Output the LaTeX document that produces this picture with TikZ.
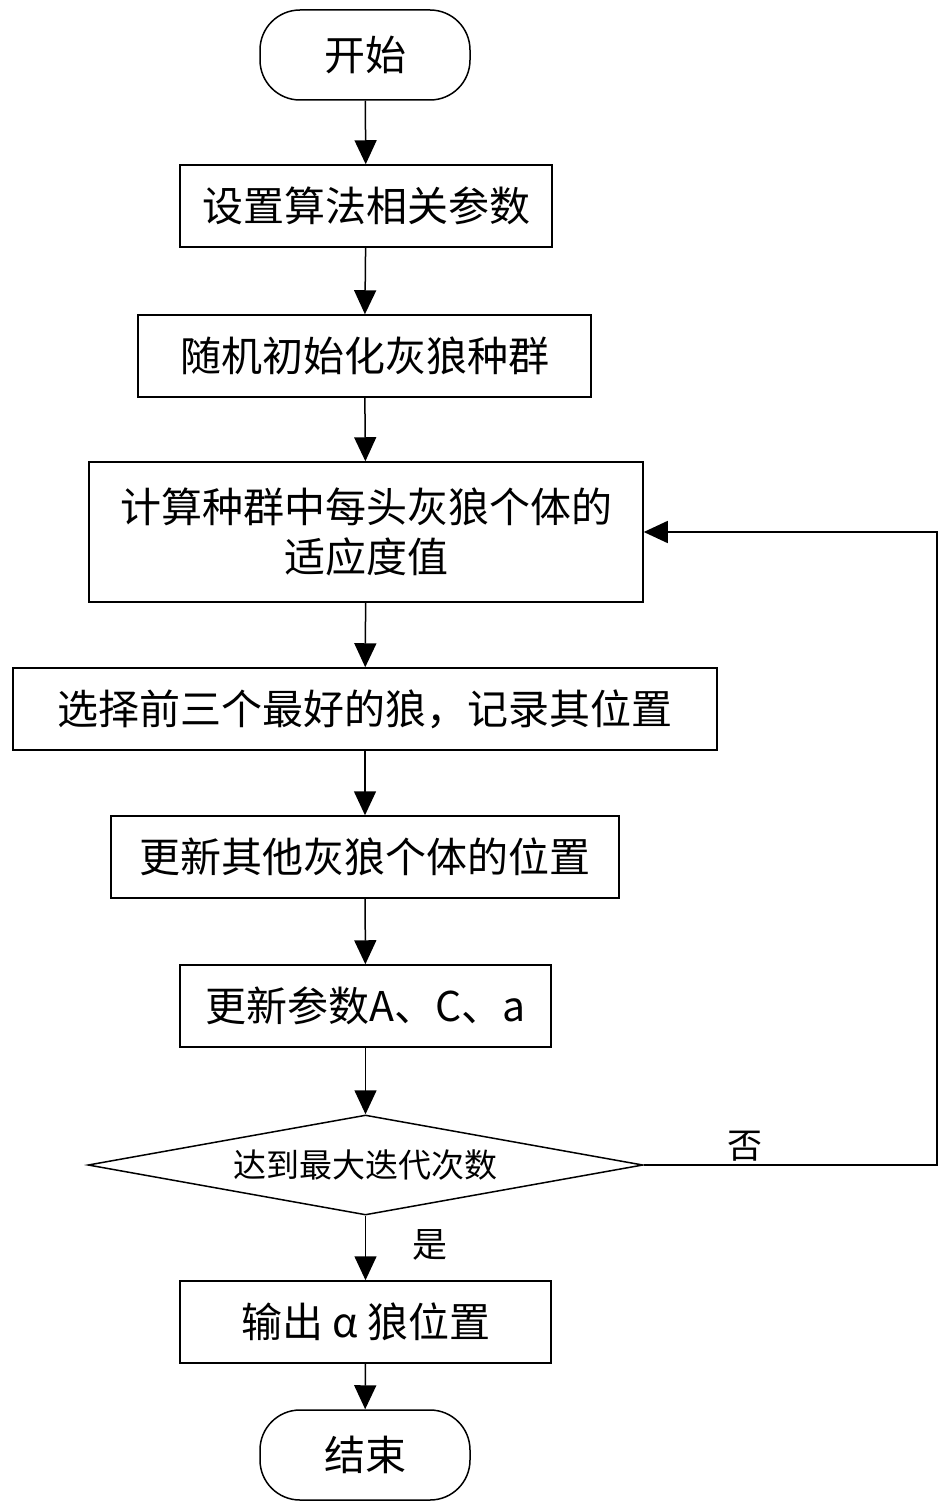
\documentclass[tikz,border=0pt]{standalone}
\usepackage{fontspec}
\setmainfont{Liberation Serif}
\newfontfamily\cjk{Noto Sans CJK SC}
\usetikzlibrary{shapes.geometric,arrows.meta}
\begin{document}
\begin{tikzpicture}[x=1pt,y=-1pt,
  box/.style={draw,line width=1.5pt,minimum height=82pt,font=\cjk\fontsize{41}{50}\selectfont,align=center,inner sep=0pt},
  term/.style={box,rounded corners=40pt,minimum height=90pt,minimum width=210pt},
  arr/.style={line width=1.5pt,-{Triangle[length=24pt,width=22pt]}},
  lbl/.style={font=\cjk\fontsize{35}{40}\selectfont}]
\useasboundingbox (0,0) rectangle (951,1511);
\node[term] (s) at (365,55) {开始};
\node[box,minimum width=372pt] (b1) at (366,206) {设置算法相关参数};
\node[box,minimum width=453pt] (b2) at (364.5,356) {随机初始化灰狼种群};
\node[box,minimum width=554pt,minimum height=140pt] (b3) at (366,532) {计算种群中每头灰狼个体的\\适应度值};
\node[box,minimum width=704pt] (b4) at (365,709) {选择前三个最好的狼，记录其位置};
\node[box,minimum width=508pt] (b5) at (365,857) {更新其他灰狼个体的位置};
\node[box,minimum width=371pt] (b6) at (365.5,1006) {更新参数A、C、a};
\node[draw,line width=1.5pt,diamond,aspect=5.55,minimum width=555pt,minimum height=100pt,inner sep=0pt,font=\cjk\fontsize{33}{38}\selectfont] (d) at (365.5,1165) {达到最大迭代次数};
\node[box,minimum width=371pt] (b7) at (365.5,1322) {输出 α 狼位置};
\node[term] (e) at (365,1455) {结束};
\draw[arr] (s) -- (b1);
\draw[arr] (b1) -- (b2);
\draw[arr] (b2) -- (b3);
\draw[arr] (b3) -- (b4);
\draw[arr] (b4) -- (b5);
\draw[arr] (b5) -- (b6);
\draw[arr] (b6) -- (d);
\draw[arr] (d) -- (b7);
\draw[arr] (b7) -- (e);
\coordinate (c1) at (937,1165);
\coordinate (c2) at (937,532);
\draw[arr] (d.east) -- (c1) -- (c2) -- (b3.east);
\node[lbl] at (745,1146) {否};
\node[lbl] at (430,1245) {是};
\end{tikzpicture}
\end{document}
